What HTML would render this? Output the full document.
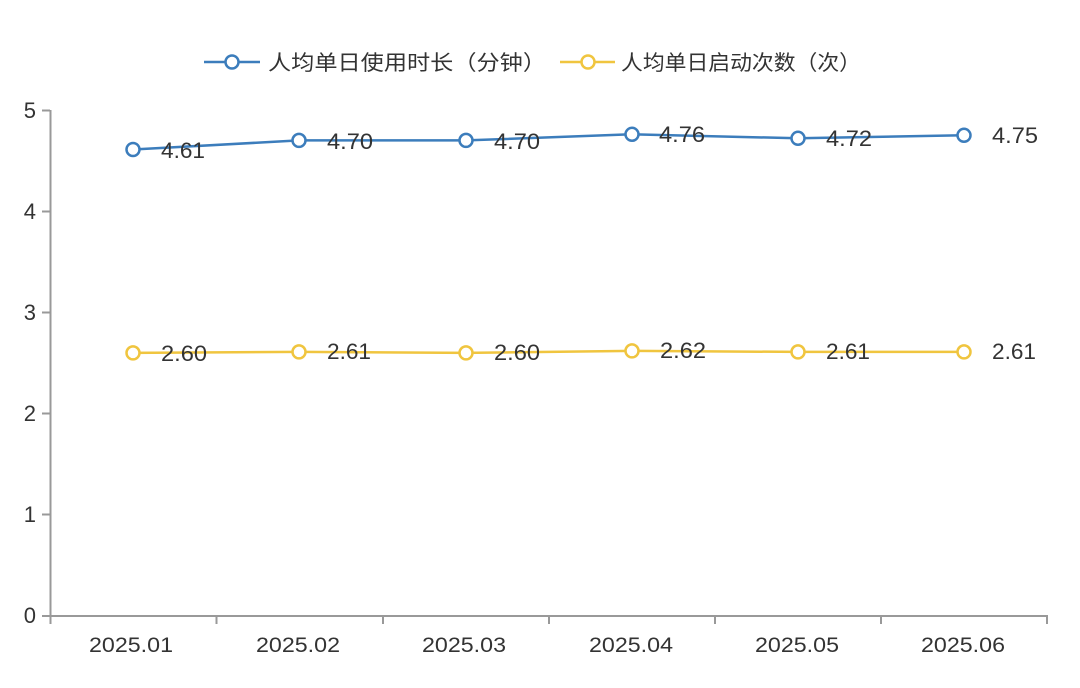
<!DOCTYPE html>
<html><head><meta charset="utf-8"><style>
html,body{margin:0;padding:0;background:#fff;}
svg{display:block;}
text{font-family:"Liberation Sans","Noto Sans CJK SC",sans-serif;fill:#333;}
</style></head><body>
<svg width="1080" height="688" viewBox="0 0 1080 688" xmlns="http://www.w3.org/2000/svg">
<rect width="1080" height="688" fill="#fff"/>
<!-- legend -->
<line x1="204" y1="62" x2="260" y2="62" stroke="#3c7dbc" stroke-width="2.5"/>
<circle cx="232" cy="62" r="6.5" fill="#fff" stroke="#3c7dbc" stroke-width="2.5"/>
<text x="268" y="70" font-size="21" textLength="278" lengthAdjust="spacingAndGlyphs">人均单日使用时长（分钟）</text>
<line x1="560" y1="62" x2="615" y2="62" stroke="#f0c53f" stroke-width="2.5"/>
<circle cx="588" cy="62" r="6.5" fill="#fff" stroke="#f0c53f" stroke-width="2.5"/>
<text x="621" y="70" font-size="21" textLength="240" lengthAdjust="spacingAndGlyphs">人均单日启动次数（次）</text>
<!-- axes -->
<g stroke="#999" stroke-width="2" fill="none">
<line x1="50.5" y1="110" x2="50.5" y2="617"/>
<line x1="42" y1="110.5" x2="50" y2="110.5"/>
<line x1="42" y1="211.5" x2="50" y2="211.5"/>
<line x1="42" y1="312.5" x2="50" y2="312.5"/>
<line x1="42" y1="413.5" x2="50" y2="413.5"/>
<line x1="42" y1="514.5" x2="50" y2="514.5"/>
<line x1="42" y1="616" x2="1048" y2="616"/>
<line x1="50.5" y1="616" x2="50.5" y2="624"/>
<line x1="216.5" y1="616" x2="216.5" y2="624"/>
<line x1="383" y1="616" x2="383" y2="624"/>
<line x1="549" y1="616" x2="549" y2="624"/>
<line x1="715" y1="616" x2="715" y2="624"/>
<line x1="881" y1="616" x2="881" y2="624"/>
<line x1="1047" y1="616" x2="1047" y2="624"/>
</g>
<g font-size="22" text-anchor="end">
<text x="36" y="118">5</text>
<text x="36" y="219">4</text>
<text x="36" y="320">3</text>
<text x="36" y="421">2</text>
<text x="36" y="522">1</text>
<text x="36" y="623">0</text>
</g>
<g font-size="21" text-anchor="middle">
<text x="131" y="652" textLength="84" lengthAdjust="spacingAndGlyphs">2025.01</text>
<text x="298" y="652" textLength="84" lengthAdjust="spacingAndGlyphs">2025.02</text>
<text x="464" y="652" textLength="84" lengthAdjust="spacingAndGlyphs">2025.03</text>
<text x="631" y="652" textLength="84" lengthAdjust="spacingAndGlyphs">2025.04</text>
<text x="797" y="652" textLength="84" lengthAdjust="spacingAndGlyphs">2025.05</text>
<text x="963" y="652" textLength="84" lengthAdjust="spacingAndGlyphs">2025.06</text>
</g>
<!-- blue series -->
<polyline fill="none" stroke="#3c7dbc" stroke-width="2.5" points="133,149.5 299,140.4 466,140.4 632,134.3 798,138.3 964,135.3"/>
<g fill="#fff" stroke="#3c7dbc" stroke-width="2.5">
<circle cx="133" cy="149.5" r="6.5"/><circle cx="299" cy="140.4" r="6.5"/><circle cx="466" cy="140.4" r="6.5"/>
<circle cx="632" cy="134.3" r="6.5"/><circle cx="798" cy="138.3" r="6.5"/><circle cx="964" cy="135.3" r="6.5"/>
</g>
<g font-size="22">
<text x="161" y="158" textLength="44" lengthAdjust="spacingAndGlyphs">4.61</text>
<text x="327" y="149" textLength="46" lengthAdjust="spacingAndGlyphs">4.70</text>
<text x="494" y="149" textLength="46" lengthAdjust="spacingAndGlyphs">4.70</text>
<text x="659" y="142" textLength="46" lengthAdjust="spacingAndGlyphs">4.76</text>
<text x="826" y="146" textLength="46" lengthAdjust="spacingAndGlyphs">4.72</text>
<text x="992" y="143" textLength="46" lengthAdjust="spacingAndGlyphs">4.75</text>
</g>
<!-- yellow series -->
<polyline fill="none" stroke="#f0c53f" stroke-width="2.5" points="133,352.9 299,351.9 466,352.9 632,350.9 798,351.9 964,351.9"/>
<g fill="#fff" stroke="#f0c53f" stroke-width="2.5">
<circle cx="133" cy="352.9" r="6.5"/><circle cx="299" cy="351.9" r="6.5"/><circle cx="466" cy="352.9" r="6.5"/>
<circle cx="632" cy="350.9" r="6.5"/><circle cx="798" cy="351.9" r="6.5"/><circle cx="964" cy="351.9" r="6.5"/>
</g>
<g font-size="22">
<text x="161" y="361" textLength="46" lengthAdjust="spacingAndGlyphs">2.60</text>
<text x="327" y="359" textLength="44" lengthAdjust="spacingAndGlyphs">2.61</text>
<text x="494" y="360" textLength="46" lengthAdjust="spacingAndGlyphs">2.60</text>
<text x="660" y="358" textLength="46" lengthAdjust="spacingAndGlyphs">2.62</text>
<text x="826" y="359" textLength="44" lengthAdjust="spacingAndGlyphs">2.61</text>
<text x="992" y="359" textLength="44" lengthAdjust="spacingAndGlyphs">2.61</text>
</g>
</svg>
</body></html>
